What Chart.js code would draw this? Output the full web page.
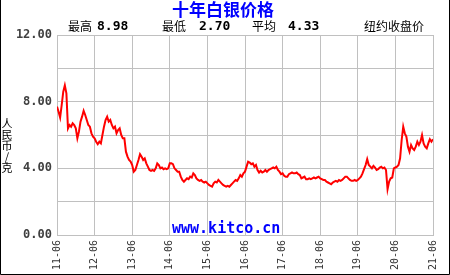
<!DOCTYPE html>
<html>
<head>
<meta charset="utf-8">
<script src="https://cdn.jsdelivr.net/npm/chart.js@4"></script>
<style>
    html, body { margin: 0; padding: 0; background: #fff; }
    canvas { display: block; }
</style>
</head>
<body>
<canvas id="silverChart" width="450" height="275"></canvas>
<script>
// tick labels on the time axis (one per year, June)
const xTickLabels = ['11-06', '12-06', '13-06', '14-06', '15-06', '16-06',
                     '17-06', '18-06', '19-06', '20-06', '21-06'];
// months between two samples, counted from 2011-06
const sampleStep = 0.5;
// silver close, RMB per gram, one value per half month
const silverPrice = [
    7.7, 7.4, 7.05, 7.8, 8.6, 8.98, 8.5, 6.4, 6.6, 6.5, 6.7, 6.6,
    6.4, 5.8, 6.2, 6.8, 7.1, 7.45, 7.2, 6.9, 6.6, 6.5, 6.1, 5.9,
    5.8, 5.6, 5.45, 5.6, 5.5, 6.0, 6.5, 6.9, 7.1, 6.8, 6.9, 6.6,
    6.4, 6.5, 6.1, 6.3, 6.4, 6.0, 5.8, 5.8, 5.0, 4.7, 4.5, 4.4,
    4.2, 3.8, 3.9, 4.2, 4.5, 4.85, 4.7, 4.5, 4.6, 4.3, 4.1, 3.9,
    3.85, 3.9, 3.85, 4.0, 4.3, 4.2, 4.0, 4.05, 3.95, 4.0, 3.95, 4.0,
    4.3, 4.3, 4.25, 4.0, 3.9, 3.8, 3.8, 3.5, 3.3, 3.2, 3.3, 3.4,
    3.35, 3.5, 3.45, 3.7, 3.6, 3.4, 3.3, 3.25, 3.3, 3.2, 3.15, 3.2,
    3.1, 3.0, 2.95, 2.9, 3.1, 3.2, 3.15, 3.3, 3.2, 3.1, 3.0, 2.95,
    2.9, 2.95, 2.9, 3.0, 3.1, 3.2, 3.3, 3.25, 3.4, 3.6, 3.5, 3.7,
    3.8, 4.1, 4.4, 4.35, 4.25, 4.3, 4.1, 4.2, 3.9, 3.75, 3.85, 3.75,
    3.8, 3.9, 3.8, 3.9, 3.95, 4.0, 4.05, 4.0, 4.1, 3.9, 3.8, 3.65,
    3.7, 3.55, 3.5, 3.5, 3.65, 3.7, 3.75, 3.7, 3.7, 3.75, 3.65, 3.6,
    3.4, 3.45, 3.5, 3.35, 3.35, 3.4, 3.35, 3.4, 3.45, 3.4, 3.45, 3.5,
    3.4, 3.35, 3.3, 3.3, 3.2, 3.15, 3.1, 3.05, 3.15, 3.2, 3.25, 3.2,
    3.3, 3.25, 3.3, 3.4, 3.5, 3.5, 3.4, 3.3, 3.25, 3.25, 3.3, 3.25,
    3.3, 3.4, 3.5, 3.7, 3.95, 4.2, 4.55, 4.2, 4.1, 4.0, 4.15, 4.05,
    3.9, 3.95, 4.05, 4.1, 4.0, 4.05, 3.9, 2.75, 3.2, 3.4, 3.45, 4.0,
    4.05, 4.1, 4.2, 4.6, 5.7, 6.5, 6.1, 5.9, 5.3, 5.0, 5.4, 5.2,
    5.1, 5.3, 5.6, 5.4, 5.6, 6.0, 5.5, 5.3, 5.2, 5.5, 5.75, 5.6,
    5.75
];
// header numbers
const statLabels = ['最高', '最低', '平均'];
const statValues = ['8.98', '2.70', '4.33'];

const monoFont = "'DejaVu Sans Mono', monospace";
const cjkFont = "'Noto Sans CJK SC', sans-serif";

// title, header row, unit label, watermark and frame
const decorPlugin = {
    id: 'decor',
    beforeDraw(chart) {
        const c = chart.ctx;
        c.save();
        c.fillStyle = '#fff';
        c.fillRect(0, 0, chart.width, chart.height);
        c.restore();
    },
    afterDraw(chart) {
        const c = chart.ctx;
        c.save();

        c.fillStyle = '#0000ff';
        c.textAlign = 'center';
        c.textBaseline = 'middle';
        c.font = 'bold 17px ' + cjkFont;
        c.fillText('十年白银价格', 223, 10);

        c.textAlign = 'left';
        c.fillStyle = '#000';
        const labelX = [68, 162, 252];
        const valueX = [97, 199, 288];
        statLabels.forEach((txt, i) => {
            c.font = '12px ' + cjkFont;
            c.fillText(txt, labelX[i], 26);
            c.font = 'bold 13px ' + monoFont;
            c.fillText(statValues[i], valueX[i], 27);
        });
        c.font = '12px ' + cjkFont;
        c.fillText('纽约收盘价', 364, 26);

        // vertical unit label, one glyph under the other
        c.textAlign = 'center';
        c.font = '11px ' + cjkFont;
        ['人', '民', '币', '/', '克'].forEach((ch, i) => {
            c.fillText(ch, 7, 124 + i * 11);
        });

        c.fillStyle = '#0000ff';
        c.textAlign = 'left';
        c.textBaseline = 'alphabetic';
        c.font = 'bold 15px ' + monoFont;
        c.fillText('www.kitco.cn', 172, 233);

        // frame on the left, right and bottom edges
        c.strokeStyle = '#000';
        c.lineWidth = 1;
        c.beginPath();
        c.moveTo(0.5, 0);
        c.lineTo(0.5, chart.height - 0.5);
        c.lineTo(chart.width - 0.5, chart.height - 0.5);
        c.lineTo(chart.width - 0.5, 0);
        c.stroke();
        c.restore();
    }
};

document.addEventListener('DOMContentLoaded', function() {
    const points = silverPrice.map((v, i) => ({ x: i * sampleStep, y: v }));
    const ctx = document.getElementById('silverChart').getContext('2d');
    new Chart(ctx, {
        type: 'line',
        data: {
            datasets: [{
                data: points,
                borderColor: '#ff0000',
                borderWidth: 2,
                pointRadius: 0,
                tension: 0,
                fill: false
            }]
        },
        options: {
            responsive: false,
            animation: false,
            devicePixelRatio: 1,
            layout: { padding: { top: 35, right: 6, left: 0, bottom: 0 } },
            plugins: {
                legend: { display: false },
                tooltip: { enabled: false }
            },
            scales: {
                x: {
                    type: 'linear',
                    min: 0,
                    max: 120,
                    afterFit: scale => { scale.height = 40; },
                    afterBuildTicks: scale => {
                        scale.ticks = xTickLabels.map((_, i) => ({ value: i * 12 }));
                    },
                    grid: { color: '#c0c0c0', drawTicks: false },
                    border: { color: '#c0c0c0' },
                    ticks: {
                        autoSkip: false,
                        minRotation: 90,
                        maxRotation: 90,
                        padding: 5,
                        color: '#333',
                        font: { family: monoFont, size: 10 },
                        callback: v => xTickLabels[Math.round(v / 12)]
                    }
                },
                y: {
                    min: 0,
                    max: 12,
                    afterFit: scale => { scale.width = 57; },
                    grid: { color: '#c0c0c0', drawTicks: false },
                    border: { color: '#c0c0c0' },
                    ticks: {
                        stepSize: 2,
                        padding: 5,
                        color: '#404040',
                        font: { family: monoFont, size: 12, weight: 'bold' },
                        callback: v => (v % 4 === 0 ? v.toFixed(2) : '')
                    }
                }
            }
        },
        plugins: [decorPlugin]
    });
});
</script>
</body>
</html>
